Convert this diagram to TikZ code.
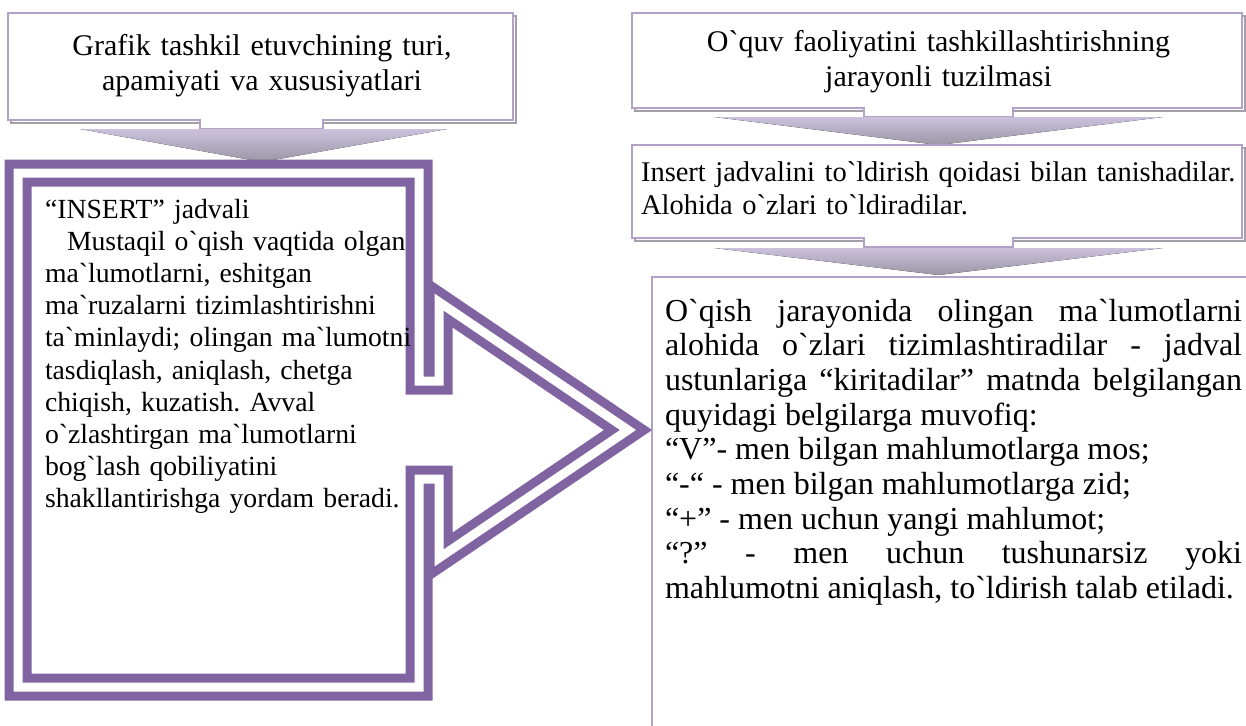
\documentclass[tikz,border=0pt]{standalone}
\usepackage{fontspec}
\newfontfamily\tnr{Liberation Serif}
\definecolor{purp}{HTML}{8064A2}
\definecolor{lav}{HTML}{B3A2C7}
\definecolor{shad}{HTML}{A39FA8}
\definecolor{wtop}{HTML}{CBC1DD}
\definecolor{wbot}{HTML}{9C96A5}
\tikzset{
  callbox/.style={draw=lav, line width=2.2pt, fill=white},
  shadowline/.style={draw=shad, line width=2.2pt},
  wedgefill/.style={top color=wtop, bottom color=wbot, draw=none},
  bigarrow/.style={draw=purp, line width=9pt, double=white, double distance=9pt, fill=white, line join=miter},
  txt/.style={inner sep=0pt, outer sep=0pt}
}
\begin{document}
\frenchspacing
\begin{tikzpicture}[x=1pt,y=-1pt]
\useasboundingbox[fill=white] (0,0) rectangle (1246,725);

% ---- top-left callout
\draw[shadowline] (11,16) rectangle (516,123);
\filldraw[callbox] (8,13) -- (513,13) -- (513,120) -- (323,120) -- (323,129) -- (200,129) -- (200,120) -- (8,120) -- cycle;
\fill[wedgefill] (80,129) -- (447,129) -- (262,162) -- cycle;
\node[txt, name=tl, anchor=base, text width=505pt, align=center, font=\tnr\fontsize{30}{34.5}\selectfont] at (262,56) {Grafik tashkil etuvchining turi,\\apamiyati va xususiyatlari};

% ---- top-right callout
\draw[shadowline] (635,16) rectangle (1245,111);
\filldraw[callbox] (632,13) -- (1242,13) -- (1242,108) -- (1013,108) -- (1013,117) -- (864,117) -- (864,108) -- (632,108) -- cycle;
\fill[wedgefill] (714,117) -- (1163,117) -- (938.5,145) -- cycle;
\node[txt, name=tr, anchor=base, text width=600pt, align=center, font=\tnr\fontsize{30}{34.5}\selectfont] at (938.5,52) {O`quv faoliyatini tashkillashtirishning\\jarayonli tuzilmasi};

% ---- middle-right callout
\draw[shadowline] (635,148) rectangle (1245,241);
\filldraw[callbox] (632,145) -- (1242,145) -- (1242,238) -- (1013,238) -- (1013,247) -- (864,247) -- (864,238) -- (632,238) -- cycle;
\fill[wedgefill] (714,248) -- (1163,248) -- (938.5,275) -- cycle;
\node[txt, name=mr, anchor=base west, text width=620pt, align=left, font=\tnr\fontsize{28.5}{33}\selectfont] at (641,181) {Insert jadvalini to`ldirish qoidasi bilan tanishadilar.\\Alohida o`zlari to`ldiradilar.};

% ---- bottom-right box (open to the right and bottom)
\draw[draw=lav, line width=2.2pt] (652,726) -- (652,277) -- (1247,277);
\node[txt, name=br, anchor=base west, text width=577pt, align=justify, font=\tnr\fontsize{32}{34.7}\selectfont] at (665,321) {O`qish jarayonida olingan ma`lumotlarni\linebreak alohida o`zlari tizimlashtiradilar - jadval\linebreak ustunlariga “kiritadilar” matnda belgilangan\linebreak quyidagi belgilarga muvofiq:\\“V”- men bilgan mahlumotlarga mos;\\“-“ - men bilgan mahlumotlarga zid;\\“+” - men uchun yangi mahlumot;\\“?” - men uchun tushunarsiz yoki\linebreak mahlumotni aniqlash, to`ldirish talab etiladi.};

% ---- big left arrow callout (double purple line)
\draw[bigarrow] (18,173) -- (419,173) -- (419,381) -- (439,381) -- (439,302) -- (628,430) -- (439,558) -- (439,479) -- (419,479) -- (419,687) -- (18,687) -- cycle;
\node[txt, name=lt, anchor=base west, text width=380pt, align=left, font=\tnr\fontsize{27.7}{32.2}\selectfont] at (45,218) {“INSERT” jadvali\\\hspace*{22pt}Mustaqil o`qish vaqtida olgan\\ma`lumotlarni, eshitgan\\ma`ruzalarni tizimlashtirishni\\ta`minlaydi; olingan ma`lumotni\\tasdiqlash, aniqlash, chetga\\chiqish, kuzatish. Avval\\o`zlashtirgan ma`lumotlarni\\bog`lash qobiliyatini\\shakllantirishga yordam beradi.};
\end{tikzpicture}
\end{document}
